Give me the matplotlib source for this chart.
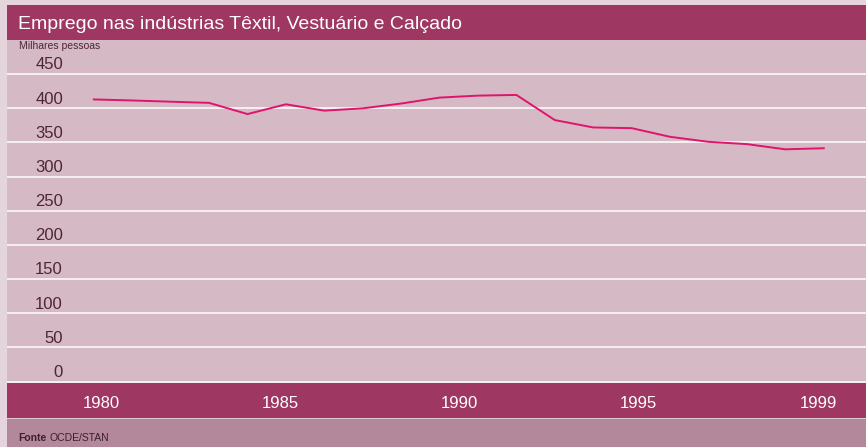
import numpy as np
import matplotlib
matplotlib.use("Agg")
import matplotlib.pyplot as plt
from matplotlib.patches import Rectangle
import matplotlib.transforms as mtransforms

plt.rcParams['font.family'] = ['Liberation Sans', 'DejaVu Sans']

# ---- data ----
years = list(range(1980, 2000))
employment = [413, 411.5, 409.7, 408, 391.6, 405.9, 396.6, 400, 407, 415.7,
              418.6, 419.6, 382.8, 372, 371, 358.3, 351, 347.6, 340, 341.6]
yticks = [0, 50, 100, 150, 200, 250, 300, 350, 400, 450]
xtick_labels = ["1980", "1985", "1990", "1995", "1999"]
title = "Emprego nas indústrias Têxtil, Vestuário e Calçado"
unit_label = "Milhares pessoas"

# ---- colours ----
outer_bg = "#e4d4db"
band = "#9e3862"
panel = "#d5b9c4"
footer = "#b3889a"
line_c = "#e0146c"
text_c = "#4e2438"

W, H = 866, 447
fig = plt.figure(figsize=(W / 100, H / 100), dpi=100)
fig.patch.set_facecolor(outer_bg)

def px_rect(x0, y0, x1, y1, color, z=-1):
    fig.patches.append(Rectangle((x0 / W, 1 - y1 / H), (x1 - x0) / W, (y1 - y0) / H,
                                 transform=fig.transFigure, facecolor=color,
                                 edgecolor="none", zorder=z))

px_rect(7, 5, W, 40, band)
px_rect(7, 383, W, 418, band)
px_rect(7, 418, W, 419, "#e0cbd4")
px_rect(7, 419, W, H, footer)

# axes: x 7..866, y 40..383
ax = fig.add_axes([7 / W, 1 - 383 / H, (W - 7) / W, (383 - 40) / H])
ax.set_facecolor(panel)
for s in ax.spines.values():
    s.set_visible(False)

x = np.arange(len(years))
ax.set_xlim(-2.26, 20.1)
ax.set_ylim(-2, 500)

for v in yticks:
    ax.axhline(v, color="white", lw=1.1, zorder=1)
ax.plot(x, employment, color=line_c, lw=1.4, zorder=3)

ax.set_yticks([])
trans = mtransforms.blended_transform_factory(ax.transAxes, ax.transData)
for v in yticks:
    ax.text((63 - 7) / (W - 7), v + 2.5, str(v), transform=trans, ha="right", va="bottom",
            fontsize=12, color=text_c)

ax.set_xticks(np.linspace(0.2, 18.85, len(xtick_labels)))
ax.set_xticklabels(xtick_labels, fontsize=12, color="white")
ax.tick_params(axis="x", length=0, pad=9)

fig.text(18 / W, 1 - 29 / H, title, color="white", fontsize=14, va="baseline", ha="left")
fig.text(19 / W, 1 - 46 / H, unit_label, color=text_c, fontsize=7.5, va="center", ha="left")
t1 = fig.text(18 / W, 1 - 438 / H, "Fonte", color="#3d1f2c", fontsize=7.5, va="center",
              ha="left", fontweight="bold")
fig.canvas.draw()
bb = t1.get_window_extent(renderer=fig.canvas.get_renderer())
fig.text((bb.x1 + 3) / W, 1 - 438 / H, "OCDE/STAN", color="#3d1f2c", fontsize=7.5,
         va="center", ha="left")

fig.savefig("out.png", dpi=100, facecolor=fig.get_facecolor())
